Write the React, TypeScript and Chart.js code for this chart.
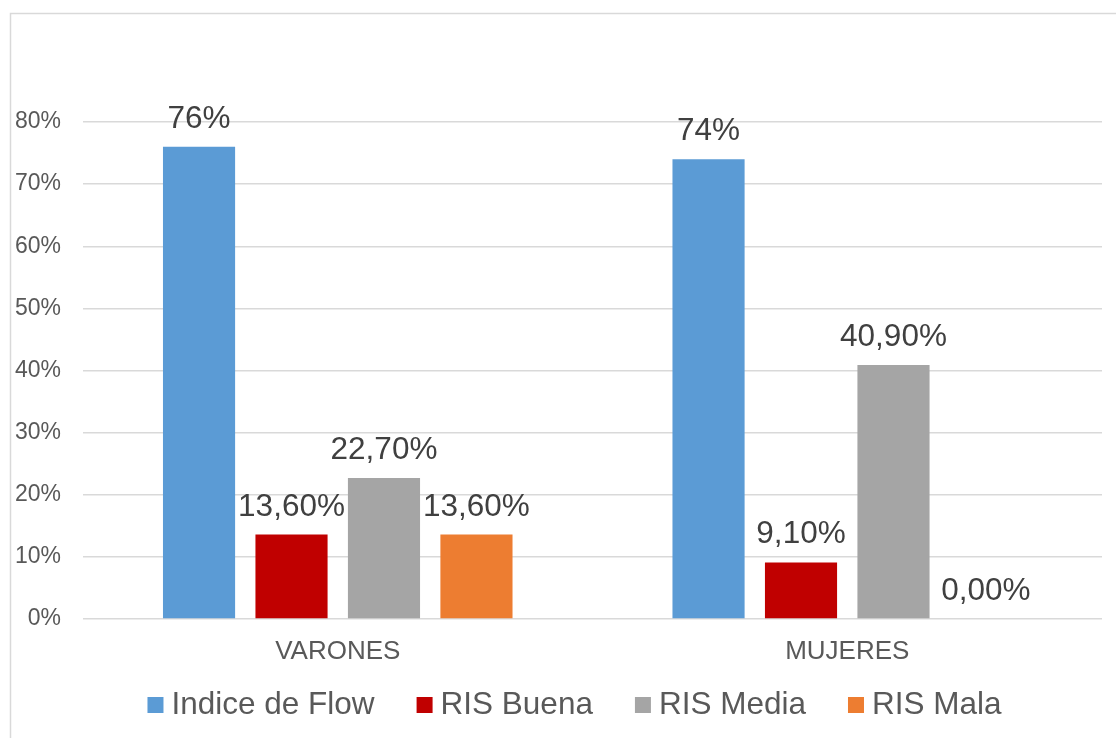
import React, { useEffect, useRef } from "react";
import { Chart, registerables } from "chart.js";

Chart.register(...registerables);

const categories = ["VARONES", "MUJERES"];
const seriesNames = ["Indice de Flow", "RIS Buena", "RIS Media", "RIS Mala"];
const indiceFlow = [0.76, 0.74];
const risBuena = [0.136, 0.091];
const risMedia = [0.227, 0.409];
const risMala = [0.136, 0.0];
const labelDecimals = [0, 2, 2, 2];
const seriesColors = ["#5B9BD5", "#C00000", "#A5A5A5", "#ED7D31"];
const yMin = 0;
const yMax = 0.8;
const yStep = 0.1;

const FONT = "'Liberation Sans', Arial, Helvetica, sans-serif";

const formatLabel = (v: number, dec: number) =>
  (v * 100).toFixed(dec).replace(".", ",") + "%";

const framePlugin = {
  id: "frame",
  beforeDraw(chart: any) {
    const ctx = chart.ctx;
    ctx.save();
    ctx.strokeStyle = "#D9D9D9";
    ctx.lineWidth = 1.5;
    ctx.beginPath();
    ctx.moveTo(10.5, chart.height);
    ctx.lineTo(10.5, 13.5);
    ctx.lineTo(chart.width, 13.5);
    ctx.stroke();
    ctx.restore();
  },
};

const dataLabelPlugin = {
  id: "dataLabels",
  afterDatasetsDraw(chart: any) {
    const ctx = chart.ctx;
    ctx.save();
    ctx.font = `31.5px ${FONT}`;
    ctx.fillStyle = "#404040";
    ctx.textAlign = "center";
    ctx.textBaseline = "alphabetic";
    chart.data.datasets.forEach((ds: any, di: number) => {
      const meta = chart.getDatasetMeta(di);
      meta.data.forEach((el: any, i: number) => {
        const v = ds.data[i];
        ctx.fillText(formatLabel(v, labelDecimals[di]), el.x, el.y - 19);
      });
    });
    ctx.restore();
  },
};

const legendPlugin = {
  id: "customLegend",
  afterDraw(chart: any) {
    const ctx = chart.ctx;
    ctx.save();
    ctx.font = `31.5px ${FONT}`;
    const box = 16;
    const boxGap = 8;
    const itemGap = 42;
    const widths = seriesNames.map((n) => ctx.measureText(n).width);
    const total =
      widths.reduce((a, w) => a + box + boxGap + w, 0) + itemGap * (seriesNames.length - 1);
    let x = 574.5 - total / 2;
    const boxTop = 697;
    const baseline = 714;
    seriesNames.forEach((n, i) => {
      ctx.fillStyle = seriesColors[i];
      ctx.fillRect(x, boxTop, box, box);
      x += box + boxGap;
      ctx.fillStyle = "#595959";
      ctx.textAlign = "left";
      ctx.textBaseline = "alphabetic";
      ctx.fillText(n, x, baseline);
      x += widths[i] + itemGap;
    });
    ctx.restore();
  },
};

export default function App() {
  const ref = useRef<HTMLCanvasElement | null>(null);

  useEffect(() => {
    document.body.style.margin = "0";
    if (!ref.current) return;
    const seriesData = [indiceFlow, risBuena, risMedia, risMala];
    const chart = new Chart(ref.current, {
      type: "bar",
      data: {
        labels: categories,
        datasets: seriesNames.map((name, i) => ({
          label: name,
          data: seriesData[i],
          backgroundColor: seriesColors[i],
          borderWidth: 0,
          categoryPercentage: 0.726,
          barPercentage: 0.78,
        })),
      },
      options: {
        responsive: false,
        animation: false,
        devicePixelRatio: 1,
        layout: { padding: { top: 122, right: 14, left: 0, bottom: 0 } },
        plugins: {
          legend: { display: false },
          tooltip: { enabled: false },
          title: { display: false },
        },
        scales: {
          x: {
            grid: { display: false, drawTicks: false },
            border: { display: false },
            ticks: {
              padding: 17,
              color: "#595959",
              font: { family: FONT, size: 26 },
            },
            afterFit: (scale: any) => {
              scale.height = 119;
            },
          },
          y: {
            min: yMin,
            max: yMax,
            grid: { color: "#D9D9D9", lineWidth: 1.5, drawTicks: false },
            border: { display: false },
            ticks: {
              stepSize: yStep,
              padding: 22,
              color: "#595959",
              font: { family: FONT, size: 23 },
              callback: (v: any) => `${Math.round(Number(v) * 100)}%`,
            },
            afterFit: (scale: any) => {
              scale.width = 83;
            },
          },
        },
      },
      plugins: [framePlugin, dataLabelPlugin, legendPlugin],
    });
    return () => chart.destroy();
  }, []);

  return (
    <div style={{ width: 1116, height: 738, background: "#FFFFFF" }}>
      <canvas ref={ref} width={1116} height={738} />
    </div>
  );
}
